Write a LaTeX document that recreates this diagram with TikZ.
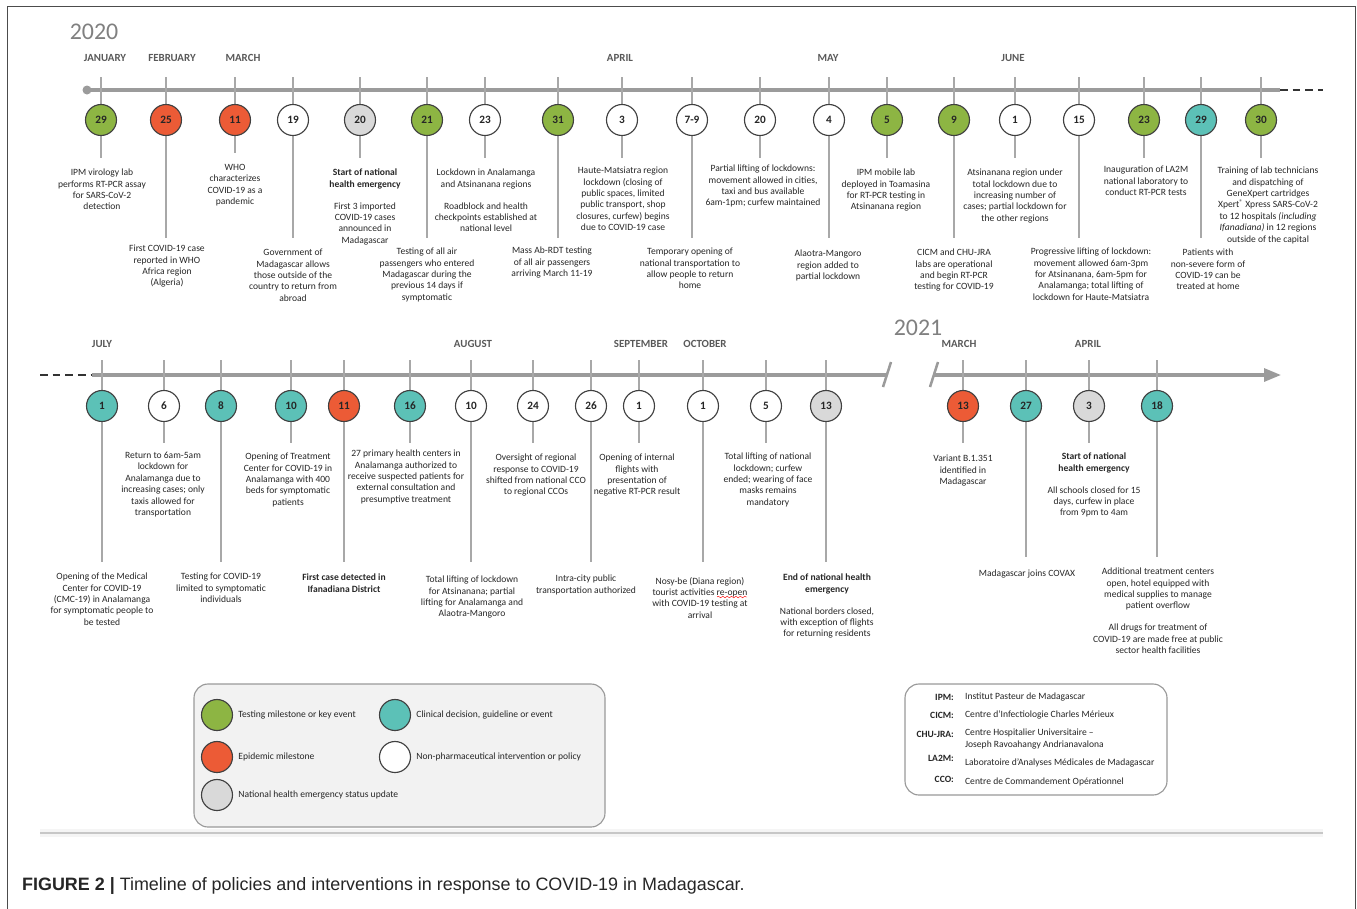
\documentclass[tikz,border=0pt]{standalone}
\usepackage{fontspec}
\setmainfont{Carlito}
\newfontfamily\capfont{Liberation Sans}
\usetikzlibrary{arrows.meta,decorations.pathmorphing}

\definecolor{evgreen}{HTML}{8DB543}
\definecolor{evred}{HTML}{EC5B36}
\definecolor{evteal}{HTML}{5CC1B7}
\definecolor{evgray}{HTML}{D9D9D9}
\definecolor{axisgray}{HTML}{9B9B9B}
\definecolor{tickgray}{HTML}{A8A8A8}
\definecolor{monthgray}{HTML}{595959}
\definecolor{yeargray}{HTML}{808080}

\tikzset{
    axis/.style={axisgray, line width=4.5pt},
    tick/.style={tickgray, line width=1.8pt},
    event/.style={circle, draw=black!75, line width=1.6pt, minimum size=15.5mm, inner sep=0pt,
        font=\fontsize{16}{16}\selectfont\bfseries, text=black!85},
    note/.style={align=center, inner sep=0pt, font=\fontsize{13.6}{16.2}\selectfont, text=black!85},
    month/.style={font=\fontsize{15.5}{16}\selectfont\bfseries, text=monthgray},
    year/.style={font=\fontsize{34}{34}\selectfont, text=yeargray},
    abbr/.style={note, anchor=east, font=\fontsize{13.6}{16.2}\selectfont\bfseries},
    expl/.style={note, anchor=west, align=left}
}

\begin{document}
\begin{tikzpicture}[x=0.5mm, y=-0.5mm]
    \useasboundingbox (0,0) rectangle (1357,908);
    \draw[black!70, line width=1.4pt] (7,915) -- (7,6) -- (1355,6) -- (1355,915);

    % 2020
    \node[year] (y20) at (94,32) {2020};
    \foreach \i/\x/\m in {m1/105/JANUARY, m2/172/FEBRUARY, m3/243/MARCH, m4/620/APRIL, m5/828/MAY, m6/1013/JUNE}
        \node[month] (\i) at (\x,58) {\m};
    \coordinate (s0) at (87,90);
    \coordinate (s1) at (1280,90);
    \coordinate (s2) at (1323,90);
    \draw[axis] (s0) -- (s1);
    \draw[black!80, line width=2.8pt, dash pattern=on 11pt off 7pt] (s1) -- (s2);
    \fill[axisgray] (s0) circle (4.5);
    \foreach \i/\x/\n/\c/\d in {a1/101/29/evgreen/158, a2/166/25/evred/238, a3/235/11/evred/153,
        a4/293/19/white/238, a5/360/20/evgray/158, a6/427/21/evgreen/238, a7/485/23/white/158,
        a8/558/31/evgreen/238, a9/622/3/white/158, a10/692/7-9/white/238, a11/760/20/white/158,
        a12/829/4/white/238, a13/887/5/evgreen/158, a14/954/9/evgreen/238, a15/1015/1/white/158,
        a16/1079/15/white/238, a17/1144/23/evgreen/158, a18/1201/29/evteal/238, a19/1261/30/evgreen/158}
    {
        \coordinate (t\i) at (\x,77);
        \coordinate (b\i) at (\x,\d);
        \draw[tick] (t\i) -- (b\i);
        \node[event, fill=\c] (\i) at (\x,120) {\n};
    }

    \node[note, anchor=north] (n-a1) at (102,169) {IPM virology lab\\performs RT-PCR  assay\\for SARS-CoV-2\\detection};
    \node[note, anchor=north] (n-a3) at (235,164) {WHO\\characterizes\\COVID-19 as a\\pandemic};
    \node[note, anchor=north] (n-a5) at (365,169) {\textbf{Start of national}\\\textbf{health emergency}\\[15pt]First 3 imported\\COVID-19 cases\\announced in\\Madagascar};
    \node[note, anchor=north] (n-a7) at (486,169) {Lockdown in Analamanga\\and Atsinanana regions\\[15pt]Roadblock and health\\checkpoints established  at\\national level};
    \node[note, anchor=north] (n-a9) at (623,167) {Haute-Matsiatra region\\lockdown (closing of\\public spaces, limited\\public transport, shop\\closures, curfew)  begins\\due to COVID-19 case};
    \node[note, anchor=north] (n-a11) at (763,165) {Partial lifting of lockdowns:\\movement allowed in cities,\\taxi and bus available\\6am-1pm; curfew maintained};
    \node[note, anchor=north] (n-a13) at (886,169) {IPM mobile lab\\deployed in Toamasina\\for RT-PCR testing in\\Atsinanana region};
    \node[note, anchor=north] (n-a15) at (1015,169) {Atsinanana region under\\total lockdown due to\\increasing number of\\cases; partial lockdown for\\the other regions};
    \node[note, anchor=north] (n-a17) at (1146,166) {Inauguration of LA2M\\national laboratory  to\\conduct RT-PCR tests};
    \node[note, anchor=north] (n-a19) at (1268,167) {Training of lab technicians\\and dispatching of\\GeneXpert cartridges\\Xpert\textsuperscript{\textregistered} Xpress SARS-CoV-2\\to 12 hospitals \textit{(including}\\\textit{Ifanadiana)} in 12 regions\\outside of the capital};

    \node[note, anchor=north] (n-a2) at (167,245) {First COVID-19 case\\reported in WHO\\Africa region\\(Algeria)};
    \node[note, anchor=north] (n-a4) at (293,249) {Government of\\Madagascar allows\\those outside of the\\country to return  from\\abroad};
    \node[note, anchor=north] (n-a6) at (427,248) {Testing of all air\\passengers who entered\\Madagascar during the\\previous 14 days if\\symptomatic};
    \node[note, anchor=north] (n-a8) at (552,247) {Mass Ab-RDT testing\\of all air passengers\\arriving March 11-19};
    \node[note, anchor=north] (n-a10) at (690,248) {Temporary opening of\\national transportation to\\allow people to return\\home};
    \node[note, anchor=north] (n-a12) at (828,250) {Alaotra-Mangoro\\region added to\\partial lockdown};
    \node[note, anchor=north] (n-a14) at (954,249) {CICM and CHU-JRA\\labs are operational\\and begin RT-PCR\\testing for COVID-19};
    \node[note, anchor=north] (n-a16) at (1091,248) {Progressive lifting of lockdown:\\movement allowed 6am-3pm\\for Atsinanana, 6am-5pm for\\Analamanga; total lifting of\\lockdown for Haute-Matsiatra};
    \node[note, anchor=north] (n-a18) at (1208,249) {Patients with\\non-severe form of\\COVID-19 can be\\treated at home};

    % 2020 (cont.) and 2021
    \node[year] (y21) at (918,328) {2021};
    \foreach \i/\x/\m in {m7/102/JULY, m8/473/AUGUST, m9/641/SEPTEMBER, m10/705/OCTOBER, m11/959/MARCH, m12/1088/APRIL}
        \node[month] (\i) at (\x,344) {\m};
    \coordinate (u0) at (40,375);
    \coordinate (u1) at (92,375);
    \coordinate (u2) at (887,375);
    \coordinate (u3) at (934,375);
    \coordinate (u4) at (1281,375);
    \draw[black!80, line width=2.8pt, dash pattern=on 11pt off 7pt] (u0) -- (u1);
    \draw[axis] (u1) -- (u2);
    \draw[axis, -{Triangle[length=8.5mm, width=6.5mm]}] (u3) -- (u4);
    \draw[axis, line width=3.6pt] (883,387) -- (891,362);
    \draw[axis, line width=3.6pt] (930,387) -- (938,362);
    \foreach \i/\x/\n/\c/\d in {b1/102/1/evteal/562, b2/164/6/white/443, b3/221/8/evteal/562,
        b4/291/10/evteal/443, b5/344/11/evred/562, b6/410/16/evteal/443, b7/471/10/white/562,
        b8/533/24/white/443, b9/591/26/white/562, b10/639/1/white/443, b11/703/1/white/562,
        b12/766/5/white/443, b13/826/13/evgray/562, c1/963/13/evred/443, c2/1026/27/evteal/557,
        c3/1089/3/evgray/443, c4/1157/18/evteal/557}
    {
        \coordinate (t\i) at (\x,360);
        \coordinate (b\i) at (\x,\d);
        \draw[tick] (t\i) -- (b\i);
        \node[event, fill=\c] (\i) at (\x,406) {\n};
    }

    \node[note, anchor=north] (n-b2) at (163,452) {Return to 6am-5am\\lockdown for\\Analamanga due to\\increasing cases; only\\taxis allowed for\\transportation};
    \node[note, anchor=north] (n-b4) at (288,453) {Opening of Treatment\\Center for COVID-19 in\\Analamanga with 400\\beds for symptomatic\\patients};
    \node[note, anchor=north] (n-b6) at (406,450) {27 primary health centers in\\Analamanga authorized to\\receive suspected patients for\\external consultation and\\presumptive treatment};
    \node[note, anchor=north] (n-b8) at (536,454) {Oversight of regional\\response to COVID-19\\shifted from national CCO\\to regional CCOs};
    \node[note, anchor=north] (n-b10) at (637,454) {Opening of internal\\flights with\\presentation of\\negative RT-PCR result};
    \node[note, anchor=north] (n-b12) at (768,453) {Total lifting of national\\lockdown; curfew\\ended; wearing of face\\masks remains\\mandatory};
    \node[note, anchor=north] (n-c1) at (963,455) {Variant  B.1.351\\identified in\\Madagascar};
    \node[note, anchor=north] (n-c3) at (1094,453) {\textbf{Start of national}\\\textbf{health emergency}\\[15pt]All schools closed for 15\\days, curfew in place\\from 9pm to 4am};

    \node[note, anchor=north] (n-b1) at (102,573) {Opening of the Medical\\Center for COVID-19\\(CMC-19) in Analamanga\\for symptomatic people to\\be tested};
    \node[note, anchor=north] (n-b3) at (221,573) {Testing for COVID-19\\limited to symptomatic\\individuals};
    \node[note, anchor=north] (n-b5) at (344,574) {\textbf{First case detected in}\\\textbf{Ifanadiana District}};
    \node[note, anchor=north] (n-b7) at (472,576) {Total lifting of lockdown\\for Atsinanana; partial\\lifting for Analamanga and\\Alaotra-Mangoro};
    \node[note, anchor=north] (n-b9) at (586,575) {Intra-city public\\transportation authorized};
    \node[note, anchor=north] (n-b11) at (700,577) {Nosy-be (Diana region)\\tourist activities re-open\\with COVID-19 testing at\\arrival};
    \draw[red, line width=0.6pt, decorate, decoration={snake, segment length=2.2mm, amplitude=0.4mm}] (717,597) -- (747,597);
    \node[note, anchor=north] (n-b13) at (827,574) {\textbf{End of national health}\\\textbf{emergency}\\[15pt]National borders closed,\\with exception of flights\\for returning residents};
    \node[note, anchor=north] (n-c2) at (1027,570) {Madagascar joins COVAX};
    \node[note, anchor=north] (n-c4) at (1158,568) {Additional treatment centers\\open, hotel equipped with\\medical supplies to manage\\patient overflow\\[15pt]All drugs for treatment of\\COVID-19 are made free at public\\sector health facilities};

    % legends
    \draw[black!40, fill=black!5, line width=1.6pt, rounded corners=7mm] (194,684) rectangle (605,827);
    \foreach \i/\x/\y/\c/\t in {l1/217/715/evgreen/Testing milestone or key event,
        l2/395/715/evteal/{Clinical decision, guideline or event},
        l3/217/757/evred/Epidemic milestone,
        l4/395/757/white/Non-pharmaceutical intervention or policy,
        l5/217/795/evgray/National health emergency status update}
    {
        \node[event, fill=\c] (\i) at (\x,\y) {};
        \node[note, anchor=west] (\i-t) at ([xshift=2.6mm]\i.east) {\t};
    }

    \draw[black!40, fill=white, line width=1.6pt, rounded corners=7mm] (905,684) rectangle (1167,795);
    \node[abbr] (k1) at (954,697) {IPM:};
    \node[abbr] (k2) at (954,715) {CICM:};
    \node[abbr] (k3) at (954,734) {CHU-JRA:};
    \node[abbr] (k4) at (954,758) {LA2M:};
    \node[abbr] (k5) at (954,779) {CCO:};
    \node[expl] (d1) at (965,697) {Institut Pasteur de Madagascar};
    \node[expl] (d2) at (965,715) {Centre d'Infectiologie Charles Mérieux};
    \node[expl, anchor=north west] (d3) at (965,729) {Centre Hospitalier Universitaire --\\Joseph Ravoahangy Andrianavalona};
    \node[expl] (d4) at (965,763) {Laboratoire d'Analyses  Médicales de Madagascar};
    \node[expl] (d5) at (965,782) {Centre de Commandement Opérationnel};

    \draw[black!4, line width=12pt] (40,833) -- (1323,833);
    \draw[black!22, line width=2.4pt] (40,833) -- (1323,833);

    \node[anchor=west, inner sep=0pt, font=\capfont\fontsize{25.5}{26}\selectfont, text=black!85] (cap) at (22,886)
        {\textbf{FIGURE 2 |} Timeline of policies and interventions in response to COVID-19 in Madagascar.};
\end{tikzpicture}
\end{document}
